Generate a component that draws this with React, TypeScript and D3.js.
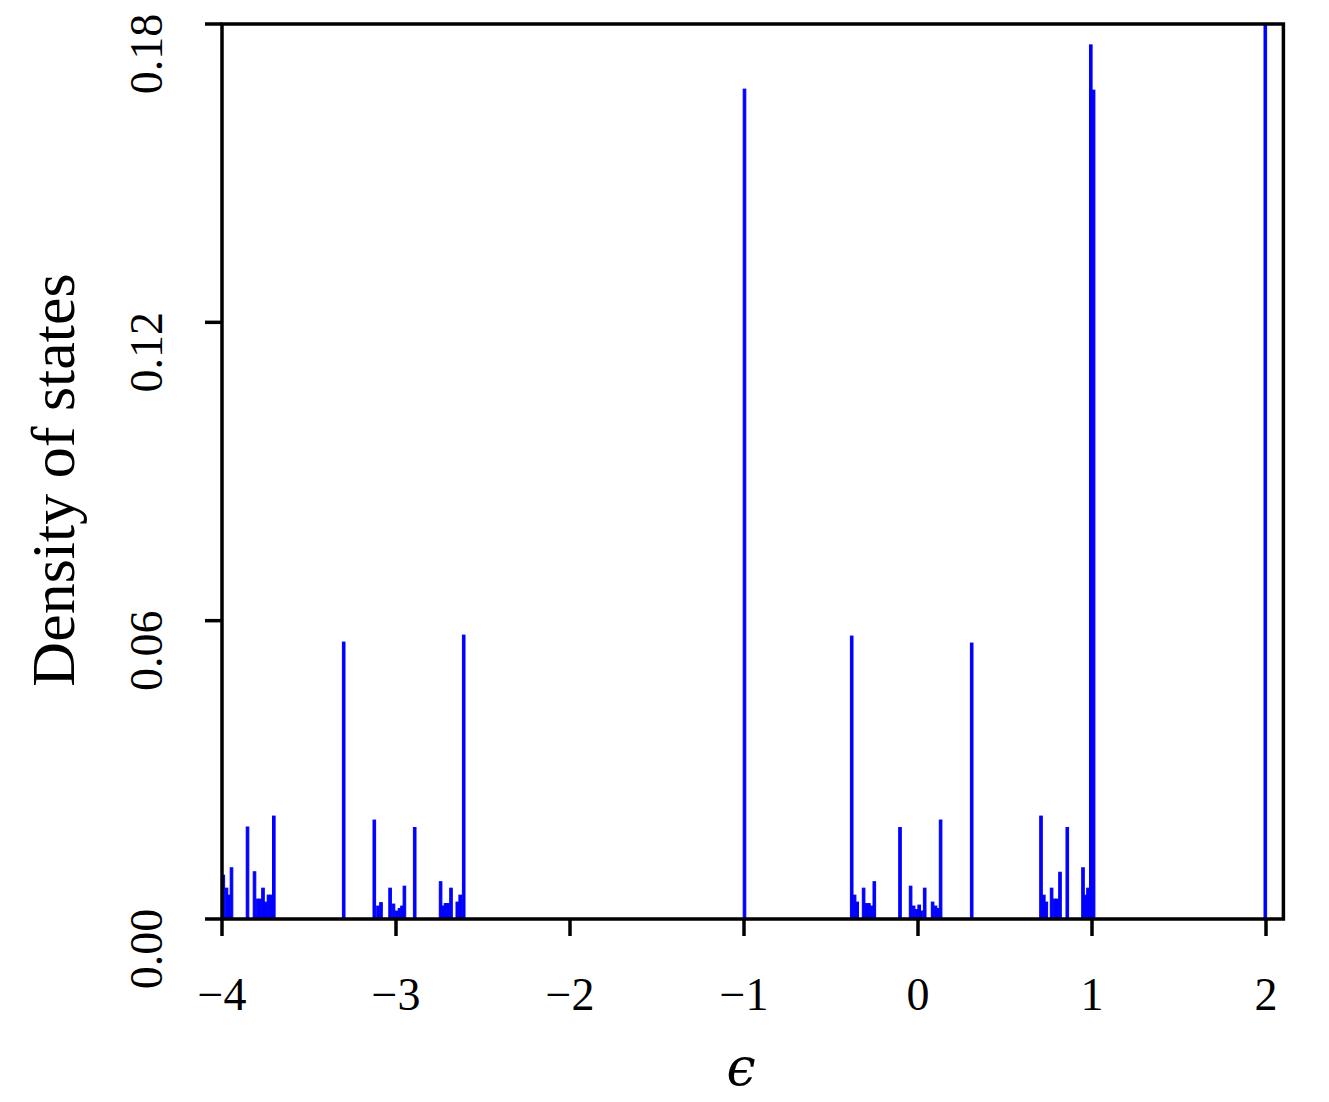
import React from "react";
import * as d3 from "d3";

// Bin centres (energy ϵ) and density of states for each histogram bar
const energies: number[] = [
  -3.9925, -3.9741, -3.9598, -3.9454, -3.8534, -3.8132, -3.796, -3.7816, -3.7644, -3.7483, -3.7328, -3.7184, -3.7023,
  -3.3006,
  -3.1247, -3.1034, -3.0862, -3.0339, -3.0144, -2.9966, -2.9799, -2.9655, -2.9517, -2.8925,
  -2.7437, -2.7282, -2.7155, -2.7011, -2.6839, -2.6477, -2.631, -2.6109,
  -0.9971,
  -0.381, -0.3644, -0.3494, -0.3126, -0.2971, -0.2822, -0.2672, -0.2511, -0.1034,
  -0.0425, -0.0253, -0.008, 0.0069, 0.0195, 0.0385, 0.0839, 0.1006, 0.1144, 0.1299,
  0.3086,
  0.7069, 0.723, 0.7374, 0.7678, 0.7845, 0.7989, 0.8161, 0.858, 0.9483, 0.9626, 0.977, 0.9931, 1.0092,
  1.996,
];
const density: number[] = [
  0.0088, 0.0062, 0.0048, 0.0103, 0.0185, 0.0095, 0.004, 0.004, 0.0062, 0.0034, 0.0048, 0.0048, 0.0207,
  0.0557,
  0.0199, 0.0026, 0.0033, 0.0062, 0.003, 0.0016, 0.0021, 0.0026, 0.0066, 0.0184,
  0.0075, 0.0026, 0.0031, 0.0031, 0.0062, 0.0034, 0.0048, 0.0571,
  0.1669,
  0.0569, 0.0048, 0.0034, 0.0062, 0.0031, 0.0031, 0.0026, 0.0075, 0.0184,
  0.0066, 0.0026, 0.0019, 0.0028, 0.0016, 0.0062, 0.0034, 0.0026, 0.0021, 0.0199,
  0.0555,
  0.0207, 0.0048, 0.0034, 0.0062, 0.004, 0.004, 0.0094, 0.0184, 0.0103, 0.0048, 0.0062, 0.1758, 0.1667,
  0.2,
];
const BIN_WIDTH = 0.015;

const xTicks: number[] = [-4, -3, -2, -1, 0, 1, 2];
const yTicks: number[] = [0, 0.06, 0.12, 0.18];
const xDomain: [number, number] = [-4, 2.1];
const yDomain: [number, number] = [0, 0.18];
const xLabel = "ϵ";
const yLabel = "Density of states";

const W = 1329;
const H = 1102;
const M = { left: 222, right: 1283.4, top: 24, bottom: 919 };

export default function App() {
  const x = d3.scaleLinear().domain(xDomain).range([M.left, M.right]);
  const y = d3.scaleLinear().domain(yDomain).range([M.bottom, M.top]);
  const bars = energies.map((e, i) => ({ e, d: density[i] }));
  const font = "'Liberation Serif', 'DejaVu Serif', serif";
  const fmtX = (v: number) => (v < 0 ? "\u2212" + Math.abs(v) : String(v));
  const fmtY = d3.format(".2f");

  return (
    <svg
      width={W}
      height={H}
      style={{ position: "absolute", left: 0, top: 0, background: "#fff" }}
    >
      <defs>
        <clipPath id="plotclip">
          <rect x={M.left} y={M.top} width={M.right - M.left} height={M.bottom - M.top} />
        </clipPath>
      </defs>
      <g clipPath="url(#plotclip)">
        {bars.map((b, i) => (
          <rect
            key={i}
            x={x(b.e - BIN_WIDTH / 2)}
            width={x(b.e + BIN_WIDTH / 2) - x(b.e - BIN_WIDTH / 2)}
            y={y(b.d)}
            height={y(0) - y(b.d)}
            fill="#0000ff"
            stroke="#0000ff"
            strokeWidth={1}
          />
        ))}
      </g>
      {/* spines */}
      <rect
        x={M.left}
        y={M.top}
        width={M.right - M.left}
        height={M.bottom - M.top}
        fill="none"
        stroke="#000"
        strokeWidth={3.5}
      />
      {/* x ticks */}
      {xTicks.map((t) => (
        <g key={"x" + t}>
          <line x1={x(t)} x2={x(t)} y1={M.bottom} y2={M.bottom + 17} stroke="#000" strokeWidth={3.5} />
          <text
            x={x(t)}
            y={1010}
            textAnchor="middle"
            fontFamily={font}
            fontSize={46}
            fill="#000"
          >
            {fmtX(t)}
          </text>
        </g>
      ))}
      {/* y ticks */}
      {yTicks.map((t) => (
        <g key={"y" + t}>
          <line x1={M.left - 17} x2={M.left} y1={y(t)} y2={y(t)} stroke="#000" strokeWidth={3.5} />
          <text
            transform={`translate(162,${y(t) + 30}) rotate(-90)`}
            textAnchor="middle"
            fontFamily={font}
            fontSize={46}
            fill="#000"
          >
            {fmtY(t)}
          </text>
        </g>
      ))}
      <text
        transform={`translate(74,${480}) rotate(-90)`}
        textAnchor="middle"
        fontFamily={font}
        fontSize={62}
        fill="#000"
      >
        {yLabel}
      </text>
      <text
        x={741}
        y={1085}
        textAnchor="middle"
        fontFamily="'DejaVu Serif', serif"
        fontStyle="italic"
        fontSize={52}
        fill="#000"
      >
        {xLabel}
      </text>
    </svg>
  );
}
